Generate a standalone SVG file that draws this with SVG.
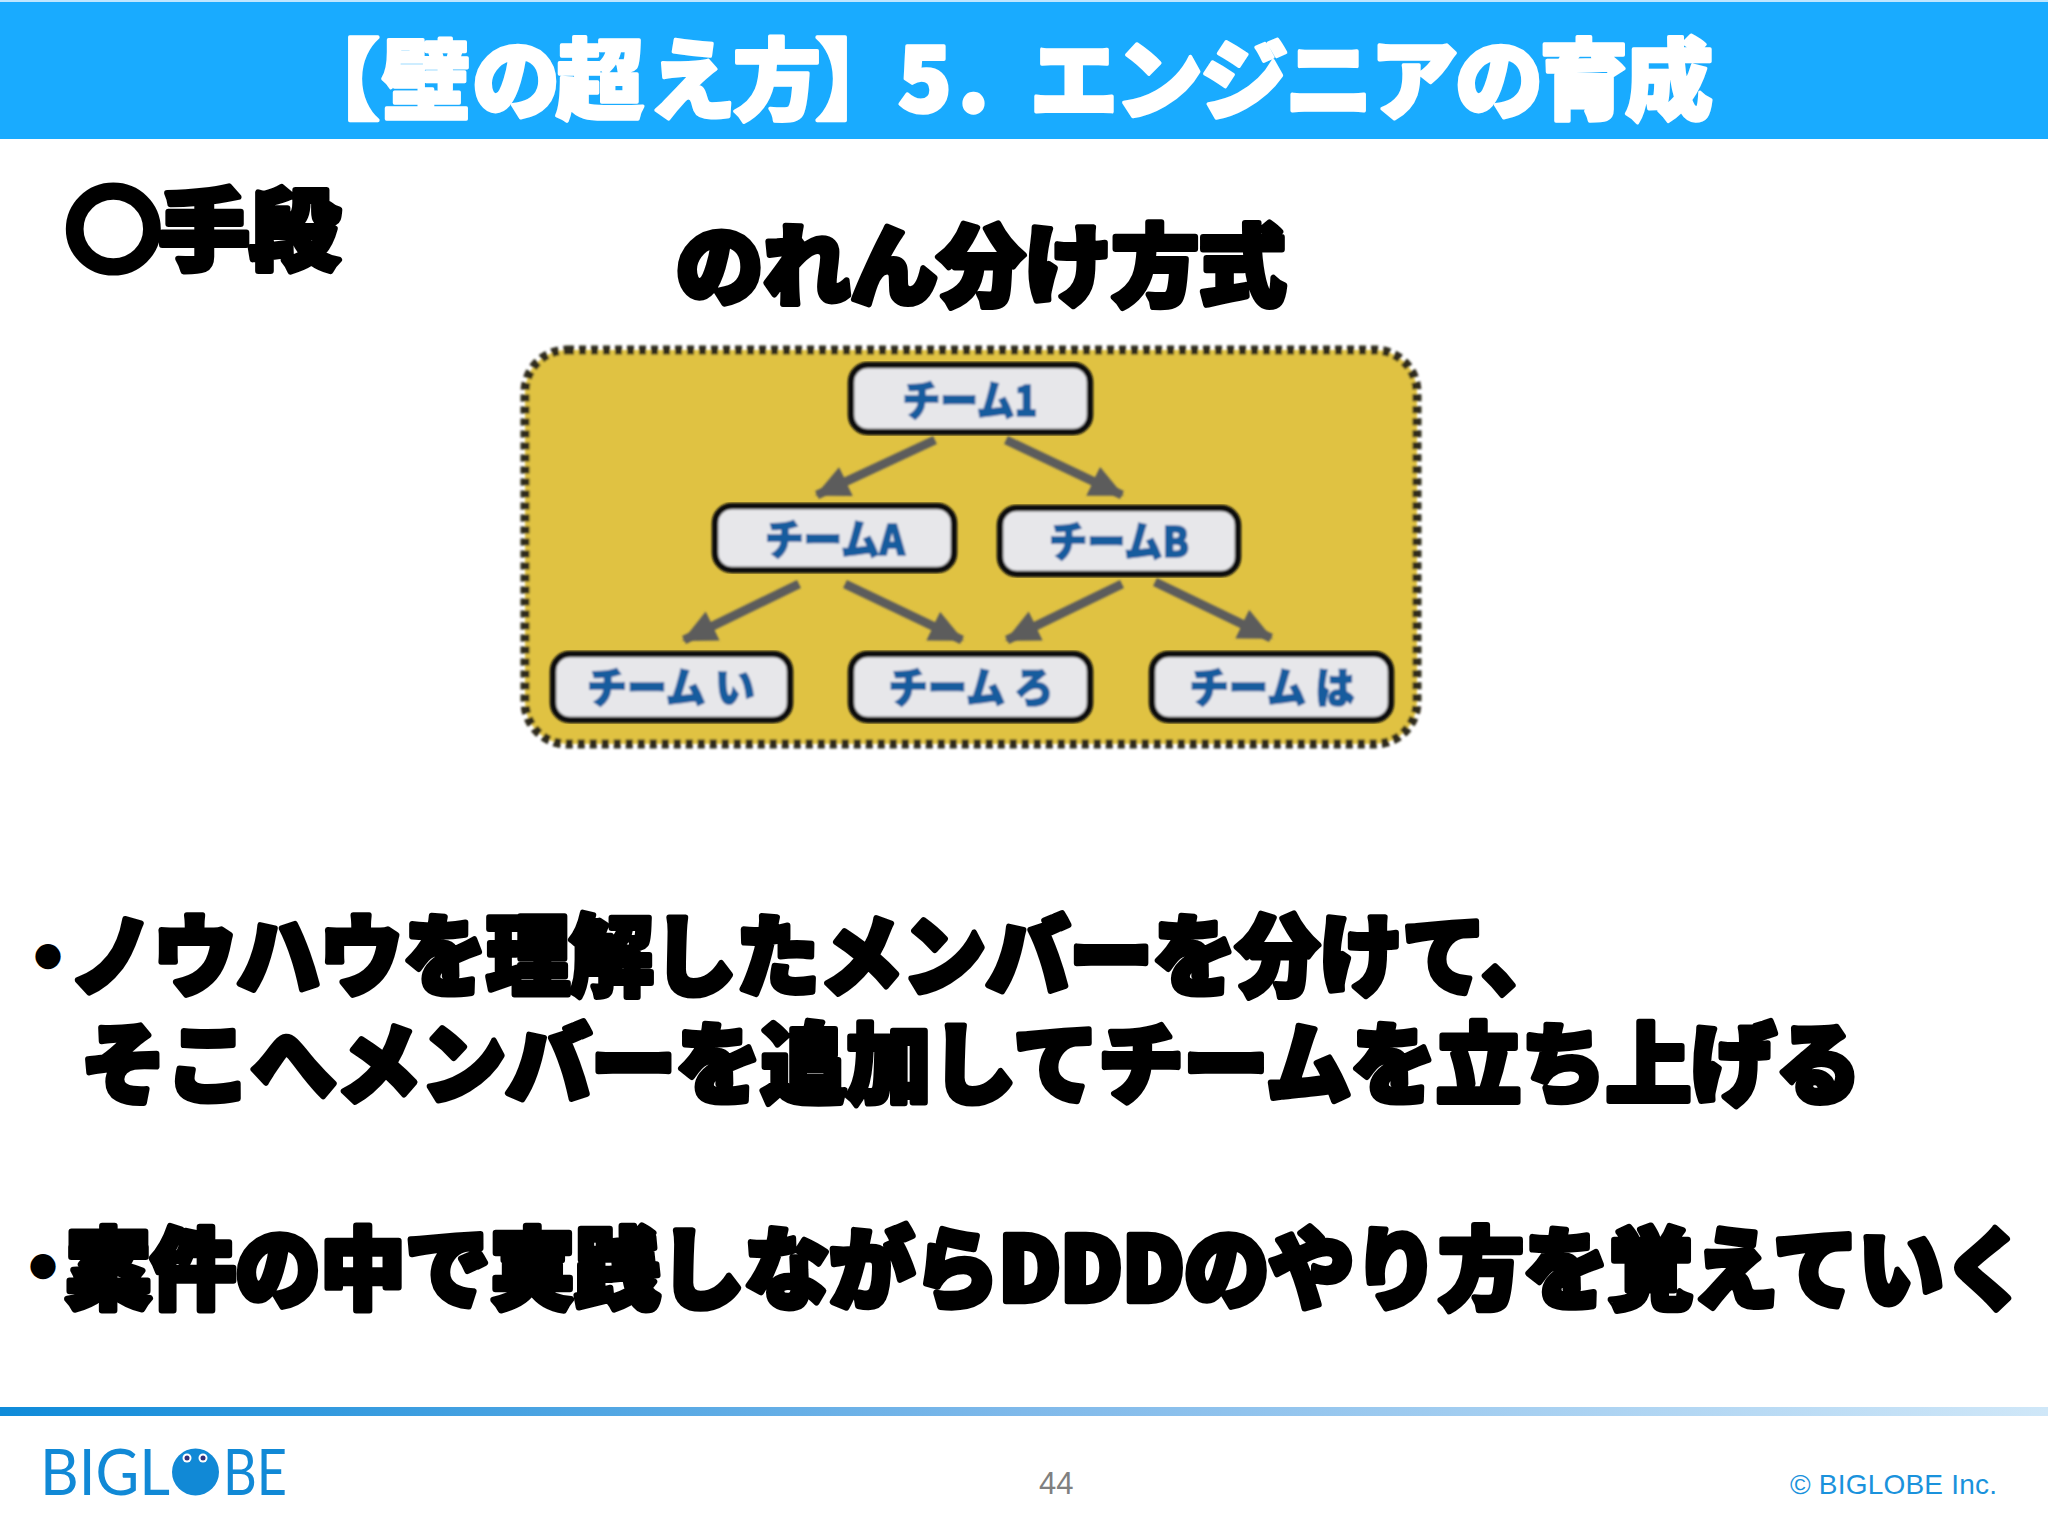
<svg xmlns="http://www.w3.org/2000/svg" width="2048" height="1536" viewBox="0 0 2048 1536">
<defs>
<linearGradient id="rule" x1="0" y1="0" x2="1" y2="0"><stop offset="0" stop-color="#0f8bd9"/><stop offset="0.5" stop-color="#7fb9ea"/><stop offset="1" stop-color="#cfe7f8"/></linearGradient>
<marker id="arr" markerUnits="userSpaceOnUse" markerWidth="36" markerHeight="34" refX="32" refY="17" orient="auto"><path d="M0 1L34 17L0 33Z" fill="#5c5c5c"/></marker>
<filter id="soft" x="-5%" y="-5%" width="110%" height="110%"><feGaussianBlur stdDeviation="0.9"/></filter>
</defs>
<style>
text{font-family:"Noto Sans CJK JP","Noto Sans",sans-serif;font-weight:900}
.big{font-size:88px;fill:#000;stroke:#000;stroke-width:6px;stroke-linejoin:round}
.bul{font-size:40px;fill:#000;stroke:#000;stroke-width:14px}
.title{font-size:88px;fill:#fff;stroke:#fff;stroke-width:3.500px;stroke-linejoin:round}
.soft{filter:url(#soft)}
.node rect{fill:#e7e7ea;stroke:#0a0a0a;stroke-width:6.500px;rx:17px;ry:17px}
.node text{font-size:42px;fill:#195b9e;stroke:#195b9e;stroke-width:1.500px;text-anchor:middle}
.c{stroke:#5c5c5c;stroke-width:9px;fill:none;marker-end:url(#arr)}
.foot{font-family:"Liberation Sans",Arial,sans-serif;font-weight:400}
.logo{font-family:Lato,"Liberation Sans",sans-serif;font-weight:400;font-size:64px;fill:#1189d6}
</style>
<rect width="2048" height="1536" fill="#fff"/>
<rect y="0" width="2048" height="139" fill="#19abff"/>
<rect y="0" width="2048" height="2" fill="#bfe6ff"/>
<text class="title" y="112" x="292 382 472 556 648 733 815 898 958 990 1030 1115 1200 1285 1370 1455 1540 1625">【壁の超え方】5. エンジニアの育成</text>
<text class="big" x="68" y="262" textLength="272" lengthAdjust="spacingAndGlyphs"><tspan stroke-width="13">○</tspan>手段</text>
<text class="big" x="676" y="298" textLength="610" lengthAdjust="spacingAndGlyphs">のれん分け方式</text>
<g id="noren" class="soft">
<rect x="525" y="350" width="892" height="394" rx="42" fill="#e0c242" stroke="#2e2b1c" stroke-width="9" stroke-dasharray="7 5"/>
</g>
<g id="connectors" class="soft">
<path class="c" d="M935 440L817 495"/>
<path class="c" d="M1006 440L1122 495"/>
<path class="c" d="M799 584L684 640"/>
<path class="c" d="M845 584L962 640"/>
<path class="c" d="M1122 584L1007 640"/>
<path class="c" d="M1155 582L1271 638"/>
</g>
<g id="team1" class="node soft"><rect x="851" y="365" width="239" height="67"/><text x="970" y="416" textLength="135" lengthAdjust="spacingAndGlyphs">チーム1</text></g>
<g id="teamA" class="node soft"><rect x="715" y="506" width="239" height="64"/><text x="835" y="555" textLength="140" lengthAdjust="spacingAndGlyphs">チームA</text></g>
<g id="teamB" class="node soft"><rect x="1000" y="508" width="238" height="66"/><text x="1119" y="557" textLength="140" lengthAdjust="spacingAndGlyphs">チームB</text></g>
<g id="teamI" class="node soft"><rect x="553" y="654" width="237" height="66"/><text x="671" y="703" textLength="168" lengthAdjust="spacingAndGlyphs">チーム い</text></g>
<g id="teamRo" class="node soft"><rect x="851" y="654" width="239" height="66"/><text x="971" y="703" textLength="165" lengthAdjust="spacingAndGlyphs">チーム ろ</text></g>
<g id="teamHa" class="node soft"><rect x="1152" y="654" width="239" height="66"/><text x="1272" y="703" textLength="165" lengthAdjust="spacingAndGlyphs">チーム は</text></g>
<text class="bul" x="28" y="972">・</text>
<text class="big" x="70" y="988" textLength="1495" lengthAdjust="spacingAndGlyphs">ノウハウを理解したメンバーを分けて、</text>
<text class="big" x="81" y="1096" textLength="1780" lengthAdjust="spacingAndGlyphs">そこへメンバーを追加してチームを立ち上げる</text>
<text class="bul" x="23" y="1282">・</text>
<text class="big" transform="translate(66 1301) scale(1 1.073)" x="0" y="0" font-size="82" style="font-size:82px" textLength="1962" lengthAdjust="spacingAndGlyphs">案件の中で実践しながらDDDのやり方を覚えていく</text>
<rect y="1407" width="2048" height="9" fill="url(#rule)"/>
<g id="logo">
<text class="logo" x="40" y="1495" textLength="130" lengthAdjust="spacingAndGlyphs">BIGL</text>
<circle cx="195.500" cy="1472" r="23.500" fill="#1189d6"/>
<circle cx="187" cy="1458" r="4.500" fill="#fff"/><circle cx="187" cy="1458" r="2.500" fill="#33307a"/>
<circle cx="203" cy="1458" r="4.500" fill="#fff"/><circle cx="203" cy="1458" r="2.500" fill="#33307a"/>
<text class="logo" x="223" y="1495" textLength="64" lengthAdjust="spacingAndGlyphs">BE</text>
</g>
<text class="foot" x="1039" y="1494" font-size="31" fill="#808080">44</text>
<text class="foot" x="1790" y="1494" font-size="28" fill="#1a92dc" textLength="207">© BIGLOBE Inc.</text>
</svg>
